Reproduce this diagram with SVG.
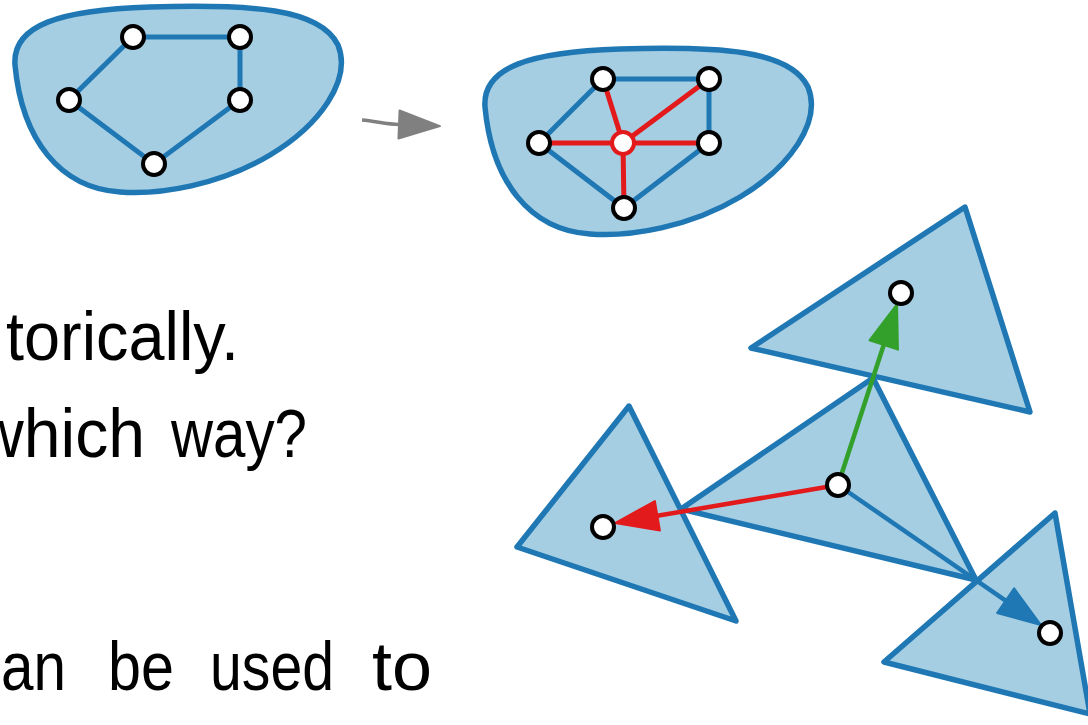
<svg xmlns="http://www.w3.org/2000/svg" xmlns:xlink="http://www.w3.org/1999/xlink" width="1088" height="725" viewBox="0 0 1088 725">
<style>
.blob{fill:#a6cee3;stroke:#1f78b4;stroke-width:5.5}
.tri{fill:#a6cee3;stroke:#1f78b4;stroke-width:5.5;stroke-linejoin:round}
.e{stroke:#1f78b4;stroke-width:5;fill:none}
.er{stroke:#e31a1c;stroke-width:5;fill:none}
.n{fill:#fff;stroke:#000;stroke-width:4}
.nr{fill:#fff;stroke:#e31a1c;stroke-width:4}
.t{font-family:"Liberation Sans",Arial,sans-serif;font-size:68px;fill:#000}
</style>
<defs>
<path id="blobShape" d="M 15,65 C 12,25 60,10 150,7 C 250,4 320,8 338,45 C 352,80 320,125 270,155 C 220,185 160,195 120,192 C 60,188 22,140 15,65 Z"/>
<marker id="ag" markerUnits="userSpaceOnUse" viewBox="-3 -18 50 36" markerWidth="50" markerHeight="36" refX="0" refY="0" orient="auto" overflow="visible"><path d="M0,-15 L43,0 L0,15 Z" fill="#33a02c" stroke="#33a02c" stroke-width="2" stroke-linejoin="round"/></marker>
<marker id="ar" markerUnits="userSpaceOnUse" viewBox="-3 -18 50 36" markerWidth="50" markerHeight="36" refX="0" refY="0" orient="auto" overflow="visible"><path d="M0,-15 L43,0 L0,15 Z" fill="#e31a1c" stroke="#e31a1c" stroke-width="2" stroke-linejoin="round"/></marker>
<marker id="ab" markerUnits="userSpaceOnUse" viewBox="-3 -18 50 36" markerWidth="50" markerHeight="36" refX="0" refY="0" orient="auto" overflow="visible"><path d="M0,-15 L43,0 L0,15 Z" fill="#1f78b4" stroke="#1f78b4" stroke-width="2" stroke-linejoin="round"/></marker>
<marker id="agr" markerUnits="userSpaceOnUse" viewBox="-3 -18 50 36" markerWidth="50" markerHeight="36" refX="0" refY="0" orient="auto" overflow="visible"><path d="M0,-14 L41,0 L0,14 Z" fill="#808080" stroke="#808080" stroke-width="2" stroke-linejoin="round"/></marker>
</defs>

<g id="blob-left"><use xlink:href="#blobShape" class="blob"/></g>
<g id="blob-right"><use xlink:href="#blobShape" class="blob" transform="translate(470,42)"/></g>

<g id="triangles">
<polygon id="tri-top" class="tri" points="965,207 751,348 1030,412"/>
<polygon id="tri-left" class="tri" points="629,406 517,547 736,621"/>
<polygon id="tri-br" class="tri" points="1055,513 884,662 1090,714"/>
<polygon id="tri-center" class="tri" points="873,378 681,509 976,580"/>
</g>

<g id="connectors">
<path class="e" d="M133,37 L240,37 L240,100 L154,164 L69,100 Z"/>
<path class="e" d="M603,79 L709,79 L709,143 L624,208 L539,143 Z"/>
<path class="er" d="M623,143 L603,79 M623,143 L709,79 M623,143 L539,143 M623,143 L709,143 M623,143 L624,208"/>
<path d="M362,120 C375,121 386,124 399,124.5" fill="none" stroke="#808080" stroke-width="3.5" marker-end="url(#agr)"/>
<path d="M838,485 L883.7,345" fill="none" stroke="#33a02c" stroke-width="4.5" marker-end="url(#ag)"/>
<path d="M838,485 L657.4,515.8" fill="none" stroke="#e31a1c" stroke-width="4.5" marker-end="url(#ar)"/>
<path d="M838,485 L1005.6,600.6" fill="none" stroke="#1f78b4" stroke-width="4.5" marker-end="url(#ab)"/>
</g>

<g id="nodes">
<g id="n-l1"><circle class="n" cx="133" cy="37" r="11"/></g>
<g id="n-l2"><circle class="n" cx="240" cy="37" r="11"/></g>
<g id="n-l3"><circle class="n" cx="69" cy="100" r="11"/></g>
<g id="n-l4"><circle class="n" cx="240" cy="100" r="11"/></g>
<g id="n-l5"><circle class="n" cx="154" cy="164" r="11"/></g>
<g id="n-r1"><circle class="n" cx="603" cy="79" r="11"/></g>
<g id="n-r2"><circle class="n" cx="709" cy="79" r="11"/></g>
<g id="n-r3"><circle class="n" cx="539" cy="143" r="11"/></g>
<g id="n-r4"><circle class="n" cx="709" cy="143" r="11"/></g>
<g id="n-r5"><circle class="n" cx="624" cy="208" r="11"/></g>
<g id="n-rc"><circle class="nr" cx="623" cy="143" r="11"/></g>
<g id="n-t1"><circle class="n" cx="901" cy="293" r="11"/></g>
<g id="n-t2"><circle class="n" cx="838" cy="485" r="11"/></g>
<g id="n-t3"><circle class="n" cx="603" cy="527" r="11"/></g>
<g id="n-t4"><circle class="n" cx="1050" cy="633" r="11"/></g>
</g>

<g id="text">
<text class="t" x="6" y="360" textLength="233" lengthAdjust="spacingAndGlyphs">torically.</text>
<text class="t" x="-24" y="457" textLength="169" lengthAdjust="spacingAndGlyphs">which</text>
<text class="t" x="171" y="457" textLength="136" lengthAdjust="spacingAndGlyphs">way?</text>
<text class="t" x="1" y="690" textLength="65" lengthAdjust="spacingAndGlyphs">an</text>
<text class="t" x="108" y="690" textLength="66" lengthAdjust="spacingAndGlyphs">be</text>
<text class="t" x="210" y="690" textLength="124" lengthAdjust="spacingAndGlyphs">used</text>
<text class="t" x="372" y="690" textLength="60" lengthAdjust="spacingAndGlyphs">to</text>
</g>
</svg>
